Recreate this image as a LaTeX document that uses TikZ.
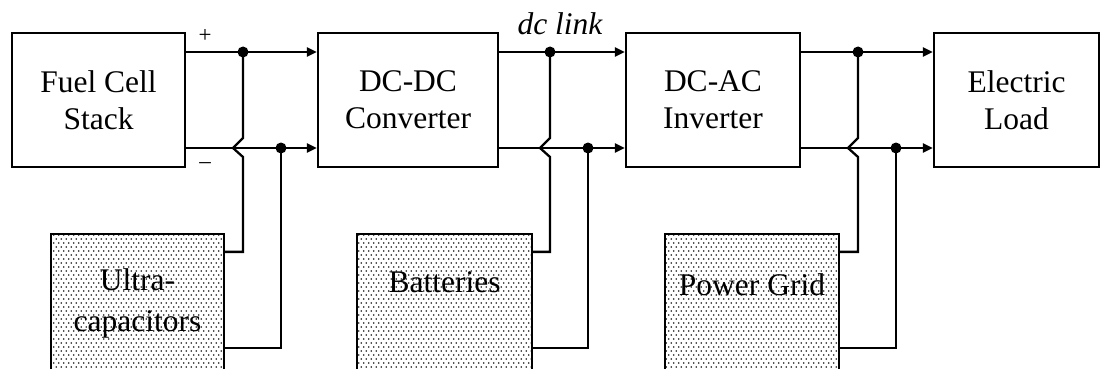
\documentclass[tikz,border=0pt]{standalone}
\usepackage{fontspec}
\setmainfont{Liberation Serif}
\usetikzlibrary{arrows.meta,patterns}
\pgfdeclarepatternformonly{sparsedots}{\pgfqpoint{-1pt}{-1pt}}{\pgfqpoint{6pt}{9pt}}{\pgfqpoint{5pt}{8pt}}{%
  \pgfpathcircle{\pgfqpoint{1.25pt}{2pt}}{0.9pt}%
  \pgfpathcircle{\pgfqpoint{3.75pt}{6pt}}{0.9pt}%
  \pgfusepath{fill}}
\tikzset{
  block/.style={draw,line width=2.3pt,minimum height=134pt,inner sep=0pt,align=center,
    font=\fontsize{31.5}{37}\selectfont},
  store/.style={draw,line width=2.3pt,minimum height=150pt,inner sep=0pt,
    pattern=sparsedots,pattern color=black!90},
  storetext/.style={align=center,font=\fontsize{31.5}{41}\selectfont},
  wire/.style={line width=2.3pt},
  feed/.style={wire,-{Triangle[length=10pt,width=9pt]}},
  pole/.style={font=\fontsize{23}{23}\selectfont},
}
\begin{document}
\begin{tikzpicture}[x=1pt,y=-1pt]
\clip (0,0) rectangle (1102,369);
% blocchi
\node[block,minimum width=173pt] (fc) at (98.5,100) {Fuel Cell\\Stack};
\node[block,minimum width=180pt] (dcdc) at (408,100) {DC-DC\\Converter};
\node[block,minimum width=174pt] (dcac) at (713,100) {DC-AC\\Inverter};
\node[block,minimum width=165pt] (load) at (1016.5,100) {Electric\\Load};
% accumulo
\node[store,minimum width=173pt] (uc) at (137.5,309) {};
\node[store,minimum width=175pt] (bat) at (444.5,309) {};
\node[store,minimum width=174pt] (grid) at (752,309) {};
\node[storetext] (uct) at (137.5,303) {Ultra-\\capacitors};
\node[storetext] (batt) at (444.5,282) {Batteries};
\node[storetext] (gridt) at (752,285) {Power Grid};
% nodi del bus
\coordinate (j1) at (243,52);
\coordinate (j2) at (281,148);
\coordinate (j3) at (550,52);
\coordinate (j4) at (588,148);
\coordinate (j5) at (858,52);
\coordinate (j6) at (896,148);
% linee
\draw[feed] (fc.east |- j1) -- (dcdc.west |- j1);
\draw[feed] (fc.east |- j2) -- (dcdc.west |- j2);
\draw[feed] (dcdc.east |- j3) -- (dcac.west |- j3);
\draw[feed] (dcdc.east |- j4) -- (dcac.west |- j4);
\draw[feed] (dcac.east |- j5) -- (load.west |- j5);
\draw[feed] (dcac.east |- j6) -- (load.west |- j6);
% derivazioni
\draw[wire] (j1) -- ++(0,86) -- ++(-10,10) -- ++(10,9) |- ([yshift=-19pt]uc.north east);
\draw[wire] (j2) |- ([yshift=-115pt]uc.north east);
\draw[wire] (j3) -- ++(0,86) -- ++(-10,10) -- ++(10,9) |- ([yshift=-19pt]bat.north east);
\draw[wire] (j4) |- ([yshift=-115pt]bat.north east);
\draw[wire] (j5) -- ++(0,86) -- ++(-10,10) -- ++(10,9) |- ([yshift=-19pt]grid.north east);
\draw[wire] (j6) |- ([yshift=-115pt]grid.north east);
\foreach \j in {j1,j2,j3,j4,j5,j6}
  \fill (\j) circle (5.5pt);
% polarita
\node[pole] (plus) at (205,36) {+};
\node[pole] (minus) at (205,166) {–};
\node[font=\fontsize{31.5}{37}\selectfont\itshape] (link) at (560,24) {dc link};
\end{tikzpicture}
\end{document}
